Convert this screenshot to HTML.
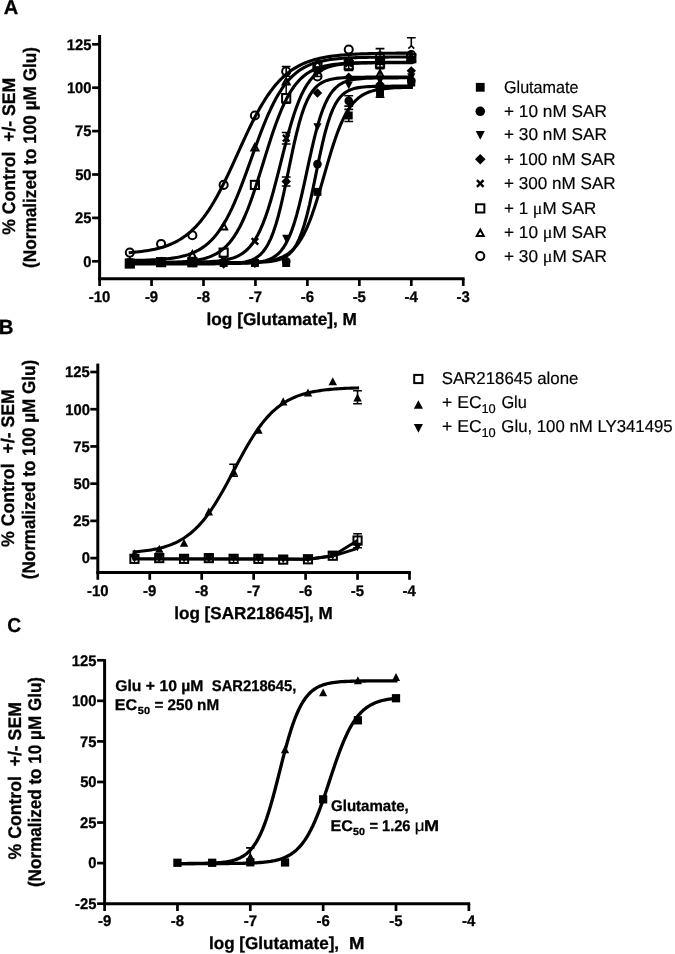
<!DOCTYPE html>
<html lang="en">
<head>
<meta charset="utf-8">
<title>Figure: SAR218645 concentration-response curves</title>
<style>
html,body{margin:0;padding:0;background:#fff;}
body{width:675px;height:954px;overflow:hidden;font-family:"Liberation Sans",sans-serif;}
svg{display:block;filter:grayscale(1) blur(0.3px);}
svg text{font-family:"Liberation Sans",sans-serif;fill:#000;text-rendering:geometricPrecision;stroke:#000;stroke-width:0.3px;stroke-linejoin:round;}
svg text[font-weight="normal"]{stroke-width:0.18px;}
</style>
</head>
<body>
<svg width="675" height="954" viewBox="0 0 675 954">
<rect x="0" y="0" width="675" height="954" fill="#fff"/>
<g id="panelA">
<text transform="translate(3.7 14.4) scale(1.0037 1)" font-size="20" font-weight="bold" font-family="Liberation Sans">A</text>
<text transform="translate(15.3 234.7) rotate(-90) scale(0.9676 1)" font-size="18.2" font-weight="bold">% Control  +/- SEM</text>
<text transform="translate(36.3 267.92) rotate(-90) scale(0.9452 1)" font-size="18.2" font-weight="bold">(Normalized to 100 µM Glu)</text>
<path d="M99.6 35 V280.25" stroke="#000" stroke-width="3.0" fill="none"/>
<path d="M98.1 278.75 H464.6" stroke="#000" stroke-width="3.0" fill="none"/>
<path d="M92.1 261.3 H99.6" stroke="#000" stroke-width="2.7"/>
<text transform="translate(83.35 266.6) scale(0.9600 1)" font-size="15.4" font-weight="bold" font-family="Liberation Sans">0</text>
<path d="M92.1 217.9 H99.6" stroke="#000" stroke-width="2.7"/>
<text transform="translate(74.96 223.2) scale(0.9600 1)" font-size="15.4" font-weight="bold" font-family="Liberation Sans">25</text>
<path d="M92.1 174.5 H99.6" stroke="#000" stroke-width="2.7"/>
<text transform="translate(75.14 179.8) scale(0.9600 1)" font-size="15.4" font-weight="bold" font-family="Liberation Sans">50</text>
<path d="M92.1 131.1 H99.6" stroke="#000" stroke-width="2.7"/>
<text transform="translate(74.96 136.4) scale(0.9600 1)" font-size="15.4" font-weight="bold" font-family="Liberation Sans">75</text>
<path d="M92.1 87.7 H99.6" stroke="#000" stroke-width="2.7"/>
<text transform="translate(66.9 93) scale(0.9600 1)" font-size="15.4" font-weight="bold" font-family="Liberation Sans">100</text>
<path d="M92.1 44.3 H99.6" stroke="#000" stroke-width="2.7"/>
<text transform="translate(66.72 49.6) scale(0.9600 1)" font-size="15.4" font-weight="bold" font-family="Liberation Sans">125</text>
<path d="M99.6 278.75 V286" stroke="#000" stroke-width="2.7"/>
<text transform="translate(88.81 301.6) scale(0.9700 1)" font-size="15.4" font-weight="bold" font-family="Liberation Sans">-10</text>
<path d="M151.55 278.75 V286" stroke="#000" stroke-width="2.7"/>
<text transform="translate(144.9 301.6) scale(0.9700 1)" font-size="15.4" font-weight="bold" font-family="Liberation Sans">-9</text>
<path d="M203.5 278.75 V286" stroke="#000" stroke-width="2.7"/>
<text transform="translate(196.8 301.6) scale(0.9700 1)" font-size="15.4" font-weight="bold" font-family="Liberation Sans">-8</text>
<path d="M255.45 278.75 V286" stroke="#000" stroke-width="2.7"/>
<text transform="translate(248.86 301.6) scale(0.9700 1)" font-size="15.4" font-weight="bold" font-family="Liberation Sans">-7</text>
<path d="M307.4 278.75 V286" stroke="#000" stroke-width="2.7"/>
<text transform="translate(300.73 301.6) scale(0.9700 1)" font-size="15.4" font-weight="bold" font-family="Liberation Sans">-6</text>
<path d="M359.35 278.75 V286" stroke="#000" stroke-width="2.7"/>
<text transform="translate(352.63 301.6) scale(0.9700 1)" font-size="15.4" font-weight="bold" font-family="Liberation Sans">-5</text>
<path d="M411.3 278.75 V286" stroke="#000" stroke-width="2.7"/>
<text transform="translate(404.41 301.6) scale(0.9700 1)" font-size="15.4" font-weight="bold" font-family="Liberation Sans">-4</text>
<path d="M463.25 278.75 V286" stroke="#000" stroke-width="2.7"/>
<text transform="translate(456.58 301.6) scale(0.9700 1)" font-size="15.4" font-weight="bold" font-family="Liberation Sans">-3</text>
<text transform="translate(206.53 324.7) scale(0.9979 1)" font-size="17.3" font-weight="bold" font-family="Liberation Sans">log [Glutamate], M</text>
<path d="M128.69 263.04 L131.28 263.04 L133.86 263.04 L136.44 263.04 L139.03 263.04 L141.61 263.04 L144.19 263.04 L146.78 263.04 L149.36 263.04 L151.94 263.04 L154.53 263.04 L157.11 263.04 L159.69 263.04 L162.28 263.04 L164.86 263.04 L167.44 263.04 L170.03 263.04 L172.61 263.04 L175.19 263.03 L177.78 263.03 L180.36 263.03 L182.94 263.03 L185.53 263.03 L188.11 263.03 L190.69 263.03 L193.28 263.03 L195.86 263.03 L198.44 263.03 L201.03 263.03 L203.61 263.02 L206.19 263.02 L208.78 263.02 L211.36 263.01 L213.94 263.01 L216.53 263 L219.11 263 L221.69 262.99 L224.28 262.98 L226.86 262.96 L229.44 262.94 L232.03 262.92 L234.61 262.9 L237.19 262.87 L239.78 262.83 L242.36 262.78 L244.94 262.72 L247.53 262.65 L250.11 262.56 L252.69 262.45 L255.28 262.32 L257.86 262.16 L260.44 261.96 L263.03 261.71 L265.61 261.41 L268.19 261.05 L270.78 260.6 L273.36 260.05 L275.94 259.38 L278.53 258.57 L281.11 257.57 L283.69 256.37 L286.28 254.92 L288.86 253.16 L291.44 251.06 L294.03 248.54 L296.61 245.55 L299.19 242.03 L301.78 237.91 L304.36 233.14 L306.94 227.67 L309.53 221.49 L312.11 214.6 L314.69 207.04 L317.28 198.9 L319.86 190.29 L322.44 181.38 L325.03 172.33 L327.61 163.33 L330.19 154.59 L332.78 146.25 L335.36 138.46 L337.94 131.3 L340.53 124.84 L343.11 119.1 L345.69 114.07 L348.28 109.7 L350.86 105.95 L353.44 102.77 L356.03 100.08 L358.61 97.82 L361.19 95.94 L363.78 94.37 L366.36 93.08 L368.94 92.01 L371.53 91.13 L374.11 90.41 L376.69 89.82 L379.28 89.33 L381.86 88.93 L384.44 88.61 L387.03 88.34 L389.61 88.13 L392.19 87.95 L394.78 87.81 L397.36 87.69 L399.94 87.6 L402.53 87.52 L405.11 87.46 L407.69 87.4 L410.28 87.36 L412.86 87.33" fill="none" stroke="#000" stroke-width="3.1" stroke-linecap="butt" stroke-linejoin="round"/>
<path d="M128.69 262.52 L131.28 262.52 L133.86 262.52 L136.44 262.52 L139.03 262.52 L141.61 262.52 L144.19 262.52 L146.78 262.52 L149.36 262.52 L151.94 262.52 L154.53 262.52 L157.11 262.52 L159.69 262.52 L162.28 262.52 L164.86 262.52 L167.44 262.52 L170.03 262.52 L172.61 262.52 L175.19 262.52 L177.78 262.52 L180.36 262.52 L182.94 262.52 L185.53 262.52 L188.11 262.52 L190.69 262.52 L193.28 262.52 L195.86 262.51 L198.44 262.51 L201.03 262.51 L203.61 262.51 L206.19 262.51 L208.78 262.51 L211.36 262.51 L213.94 262.51 L216.53 262.51 L219.11 262.51 L221.69 262.51 L224.28 262.51 L226.86 262.51 L229.44 262.5 L232.03 262.5 L234.61 262.5 L237.19 262.49 L239.78 262.48 L242.36 262.47 L244.94 262.45 L247.53 262.43 L250.11 262.4 L252.69 262.36 L255.28 262.31 L257.86 262.25 L260.44 262.16 L263.03 262.04 L265.61 261.88 L268.19 261.67 L270.78 261.38 L273.36 261.01 L275.94 260.51 L278.53 259.85 L281.11 258.98 L283.69 257.82 L286.28 256.31 L288.86 254.33 L291.44 251.76 L294.03 248.45 L296.61 244.23 L299.19 238.93 L301.78 232.39 L304.36 224.48 L306.94 215.18 L309.53 204.55 L312.11 192.82 L314.69 180.36 L317.28 167.66 L319.86 155.23 L322.44 143.55 L325.03 132.98 L327.61 123.75 L330.19 115.91 L332.78 109.43 L335.36 104.19 L337.94 100.02 L340.53 96.75 L343.11 94.21 L345.69 92.26 L348.28 90.77 L350.86 89.63 L353.44 88.77 L356.03 88.12 L358.61 87.62 L361.19 87.25 L363.78 86.98 L366.36 86.77 L368.94 86.61 L371.53 86.49 L374.11 86.4 L376.69 86.34 L379.28 86.29 L381.86 86.25 L384.44 86.22 L387.03 86.2 L389.61 86.18 L392.19 86.17 L394.78 86.16 L397.36 86.16 L399.94 86.15 L402.53 86.15 L405.11 86.15 L407.69 86.14 L410.28 86.14 L412.86 86.14" fill="none" stroke="#000" stroke-width="3.1" stroke-linecap="butt" stroke-linejoin="round"/>
<path d="M128.69 263.56 L131.28 263.56 L133.86 263.56 L136.44 263.56 L139.03 263.56 L141.61 263.56 L144.19 263.56 L146.78 263.56 L149.36 263.56 L151.94 263.56 L154.53 263.56 L157.11 263.56 L159.69 263.56 L162.28 263.56 L164.86 263.56 L167.44 263.56 L170.03 263.56 L172.61 263.56 L175.19 263.56 L177.78 263.56 L180.36 263.56 L182.94 263.56 L185.53 263.56 L188.11 263.56 L190.69 263.56 L193.28 263.55 L195.86 263.55 L198.44 263.55 L201.03 263.55 L203.61 263.55 L206.19 263.55 L208.78 263.55 L211.36 263.54 L213.94 263.54 L216.53 263.54 L219.11 263.53 L221.69 263.52 L224.28 263.51 L226.86 263.5 L229.44 263.48 L232.03 263.46 L234.61 263.43 L237.19 263.39 L239.78 263.34 L242.36 263.27 L244.94 263.19 L247.53 263.08 L250.11 262.94 L252.69 262.76 L255.28 262.52 L257.86 262.22 L260.44 261.83 L263.03 261.32 L265.61 260.67 L268.19 259.84 L270.78 258.77 L273.36 257.4 L275.94 255.66 L278.53 253.46 L281.11 250.68 L283.69 247.21 L286.28 242.92 L288.86 237.68 L291.44 231.36 L294.03 223.88 L296.61 215.21 L299.19 205.4 L301.78 194.6 L304.36 183.06 L306.94 171.12 L309.53 159.16 L312.11 147.58 L314.69 136.72 L317.28 126.83 L319.86 118.08 L322.44 110.51 L325.03 104.11 L327.61 98.79 L330.19 94.43 L332.78 90.91 L335.36 88.09 L337.94 85.84 L340.53 84.07 L343.11 82.68 L345.69 81.59 L348.28 80.74 L350.86 80.08 L353.44 79.57 L356.03 79.17 L358.61 78.86 L361.19 78.62 L363.78 78.43 L366.36 78.29 L368.94 78.18 L371.53 78.1 L374.11 78.03 L376.69 77.98 L379.28 77.94 L381.86 77.91 L384.44 77.88 L387.03 77.87 L389.61 77.85 L392.19 77.84 L394.78 77.83 L397.36 77.83 L399.94 77.82 L402.53 77.82 L405.11 77.81 L407.69 77.81 L410.28 77.81 L412.86 77.81" fill="none" stroke="#000" stroke-width="3.1" stroke-linecap="butt" stroke-linejoin="round"/>
<path d="M128.69 263.9 L131.28 263.9 L133.86 263.9 L136.44 263.9 L139.03 263.9 L141.61 263.9 L144.19 263.9 L146.78 263.9 L149.36 263.9 L151.94 263.9 L154.53 263.9 L157.11 263.9 L159.69 263.9 L162.28 263.9 L164.86 263.9 L167.44 263.9 L170.03 263.9 L172.61 263.9 L175.19 263.9 L177.78 263.9 L180.36 263.9 L182.94 263.9 L185.53 263.9 L188.11 263.9 L190.69 263.9 L193.28 263.9 L195.86 263.89 L198.44 263.89 L201.03 263.88 L203.61 263.88 L206.19 263.87 L208.78 263.86 L211.36 263.85 L213.94 263.83 L216.53 263.8 L219.11 263.77 L221.69 263.73 L224.28 263.68 L226.86 263.61 L229.44 263.52 L232.03 263.4 L234.61 263.24 L237.19 263.04 L239.78 262.77 L242.36 262.42 L244.94 261.96 L247.53 261.37 L250.11 260.59 L252.69 259.59 L255.28 258.29 L257.86 256.62 L260.44 254.47 L263.03 251.73 L265.61 248.27 L268.19 243.94 L270.78 238.59 L273.36 232.07 L275.94 224.29 L278.53 215.21 L281.11 204.87 L283.69 193.47 L286.28 181.28 L288.86 168.71 L291.44 156.2 L294.03 144.2 L296.61 133.07 L299.19 123.08 L301.78 114.37 L304.36 106.96 L306.94 100.78 L309.53 95.74 L312.11 91.67 L314.69 88.43 L317.28 85.88 L319.86 83.88 L322.44 82.32 L325.03 81.11 L327.61 80.18 L330.19 79.46 L332.78 78.91 L335.36 78.49 L337.94 78.16 L340.53 77.92 L343.11 77.73 L345.69 77.58 L348.28 77.47 L350.86 77.38 L353.44 77.32 L356.03 77.27 L358.61 77.23 L361.19 77.2 L363.78 77.18 L366.36 77.16 L368.94 77.15 L371.53 77.14 L374.11 77.13 L376.69 77.13 L379.28 77.12 L381.86 77.12 L384.44 77.12 L387.03 77.12 L389.61 77.12 L392.19 77.11 L394.78 77.11 L397.36 77.11 L399.94 77.11 L402.53 77.11 L405.11 77.11 L407.69 77.11 L410.28 77.11 L412.86 77.11" fill="none" stroke="#000" stroke-width="3.1" stroke-linecap="butt" stroke-linejoin="round"/>
<path d="M128.69 262.34 L131.28 262.34 L133.86 262.34 L136.44 262.34 L139.03 262.34 L141.61 262.34 L144.19 262.34 L146.78 262.34 L149.36 262.34 L151.94 262.33 L154.53 262.33 L157.11 262.33 L159.69 262.33 L162.28 262.33 L164.86 262.32 L167.44 262.32 L170.03 262.31 L172.61 262.31 L175.19 262.3 L177.78 262.29 L180.36 262.28 L182.94 262.26 L185.53 262.24 L188.11 262.22 L190.69 262.19 L193.28 262.16 L195.86 262.11 L198.44 262.06 L201.03 262 L203.61 261.92 L206.19 261.82 L208.78 261.71 L211.36 261.56 L213.94 261.38 L216.53 261.17 L219.11 260.9 L221.69 260.57 L224.28 260.17 L226.86 259.68 L229.44 259.08 L232.03 258.35 L234.61 257.46 L237.19 256.37 L239.78 255.05 L242.36 253.46 L244.94 251.54 L247.53 249.23 L250.11 246.46 L252.69 243.18 L255.28 239.3 L257.86 234.75 L260.44 229.48 L263.03 223.42 L265.61 216.56 L268.19 208.89 L270.78 200.44 L273.36 191.32 L275.94 181.63 L278.53 171.56 L281.11 161.3 L283.69 151.06 L286.28 141.07 L288.86 131.5 L291.44 122.53 L294.03 114.26 L296.61 106.78 L299.19 100.11 L301.78 94.24 L304.36 89.15 L306.94 84.76 L309.53 81.03 L312.11 77.88 L314.69 75.23 L317.28 73.02 L319.86 71.18 L322.44 69.65 L325.03 68.4 L327.61 67.36 L330.19 66.51 L332.78 65.81 L335.36 65.24 L337.94 64.77 L340.53 64.39 L343.11 64.08 L345.69 63.82 L348.28 63.61 L350.86 63.45 L353.44 63.31 L356.03 63.19 L358.61 63.1 L361.19 63.03 L363.78 62.97 L366.36 62.92 L368.94 62.88 L371.53 62.84 L374.11 62.82 L376.69 62.8 L379.28 62.78 L381.86 62.76 L384.44 62.75 L387.03 62.74 L389.61 62.74 L392.19 62.73 L394.78 62.72 L397.36 62.72 L399.94 62.72 L402.53 62.71 L405.11 62.71 L407.69 62.71 L410.28 62.71 L412.86 62.71" fill="none" stroke="#000" stroke-width="3.1" stroke-linecap="butt" stroke-linejoin="round"/>
<path d="M128.69 262.83 L131.28 262.82 L133.86 262.82 L136.44 262.81 L139.03 262.8 L141.61 262.79 L144.19 262.77 L146.78 262.76 L149.36 262.74 L151.94 262.71 L154.53 262.69 L157.11 262.65 L159.69 262.62 L162.28 262.57 L164.86 262.52 L167.44 262.46 L170.03 262.38 L172.61 262.3 L175.19 262.19 L177.78 262.07 L180.36 261.93 L182.94 261.76 L185.53 261.56 L188.11 261.33 L190.69 261.05 L193.28 260.73 L195.86 260.34 L198.44 259.89 L201.03 259.36 L203.61 258.73 L206.19 258 L208.78 257.14 L211.36 256.14 L213.94 254.96 L216.53 253.59 L219.11 251.99 L221.69 250.14 L224.28 248 L226.86 245.53 L229.44 242.69 L232.03 239.45 L234.61 235.77 L237.19 231.61 L239.78 226.94 L242.36 221.74 L244.94 216.01 L247.53 209.74 L250.11 202.96 L252.69 195.71 L255.28 188.05 L257.86 180.06 L260.44 171.84 L263.03 163.48 L265.61 155.12 L268.19 146.85 L270.78 138.81 L273.36 131.07 L275.94 123.73 L278.53 116.85 L281.11 110.47 L283.69 104.63 L286.28 99.32 L288.86 94.54 L291.44 90.28 L294.03 86.5 L296.61 83.16 L299.19 80.25 L301.78 77.7 L304.36 75.5 L306.94 73.59 L309.53 71.94 L312.11 70.52 L314.69 69.31 L317.28 68.27 L319.86 67.38 L322.44 66.63 L325.03 65.98 L327.61 65.43 L330.19 64.96 L332.78 64.57 L335.36 64.23 L337.94 63.94 L340.53 63.7 L343.11 63.49 L345.69 63.32 L348.28 63.17 L350.86 63.05 L353.44 62.94 L356.03 62.85 L358.61 62.77 L361.19 62.71 L363.78 62.65 L366.36 62.61 L368.94 62.57 L371.53 62.54 L374.11 62.51 L376.69 62.48 L379.28 62.46 L381.86 62.45 L384.44 62.43 L387.03 62.42 L389.61 62.41 L392.19 62.4 L394.78 62.39 L397.36 62.39 L399.94 62.38 L402.53 62.38 L405.11 62.38 L407.69 62.37 L410.28 62.37 L412.86 62.37" fill="none" stroke="#000" stroke-width="3.1" stroke-linecap="butt" stroke-linejoin="round"/>
<path d="M128.69 260.54 L131.28 260.5 L133.86 260.46 L136.44 260.41 L139.03 260.35 L141.61 260.29 L144.19 260.21 L146.78 260.13 L149.36 260.03 L151.94 259.91 L154.53 259.78 L157.11 259.63 L159.69 259.45 L162.28 259.25 L164.86 259.02 L167.44 258.76 L170.03 258.45 L172.61 258.1 L175.19 257.7 L177.78 257.24 L180.36 256.71 L182.94 256.1 L185.53 255.41 L188.11 254.61 L190.69 253.7 L193.28 252.67 L195.86 251.48 L198.44 250.14 L201.03 248.61 L203.61 246.89 L206.19 244.93 L208.78 242.73 L211.36 240.25 L213.94 237.48 L216.53 234.38 L219.11 230.94 L221.69 227.14 L224.28 222.96 L226.86 218.4 L229.44 213.43 L232.03 208.08 L234.61 202.34 L237.19 196.25 L239.78 189.83 L242.36 183.13 L244.94 176.2 L247.53 169.1 L250.11 161.9 L252.69 154.67 L255.28 147.48 L257.86 140.41 L260.44 133.51 L263.03 126.85 L265.61 120.49 L268.19 114.45 L270.78 108.78 L273.36 103.49 L275.94 98.59 L278.53 94.08 L281.11 89.96 L283.69 86.22 L286.28 82.84 L288.86 79.8 L291.44 77.08 L294.03 74.65 L296.61 72.49 L299.19 70.57 L301.78 68.88 L304.36 67.38 L306.94 66.06 L309.53 64.91 L312.11 63.89 L314.69 63 L317.28 62.23 L319.86 61.55 L322.44 60.95 L325.03 60.44 L327.61 59.98 L330.19 59.59 L332.78 59.25 L335.36 58.95 L337.94 58.69 L340.53 58.46 L343.11 58.27 L345.69 58.1 L348.28 57.95 L350.86 57.82 L353.44 57.71 L356.03 57.61 L358.61 57.53 L361.19 57.45 L363.78 57.39 L366.36 57.34 L368.94 57.29 L371.53 57.25 L374.11 57.21 L376.69 57.18 L379.28 57.15 L381.86 57.13 L384.44 57.11 L387.03 57.09 L389.61 57.07 L392.19 57.06 L394.78 57.05 L397.36 57.04 L399.94 57.03 L402.53 57.02 L405.11 57.02 L407.69 57.01 L410.28 57.01 L412.86 57" fill="none" stroke="#000" stroke-width="3.1" stroke-linecap="butt" stroke-linejoin="round"/>
<path d="M128.69 252.68 L131.28 252.48 L133.86 252.26 L136.44 252.01 L139.03 251.73 L141.61 251.42 L144.19 251.07 L146.78 250.69 L149.36 250.26 L151.94 249.77 L154.53 249.24 L157.11 248.64 L159.69 247.98 L162.28 247.24 L164.86 246.42 L167.44 245.51 L170.03 244.5 L172.61 243.38 L175.19 242.14 L177.78 240.77 L180.36 239.26 L182.94 237.6 L185.53 235.78 L188.11 233.78 L190.69 231.58 L193.28 229.19 L195.86 226.59 L198.44 223.76 L201.03 220.7 L203.61 217.41 L206.19 213.86 L208.78 210.07 L211.36 206.03 L213.94 201.75 L216.53 197.22 L219.11 192.47 L221.69 187.51 L224.28 182.36 L226.86 177.03 L229.44 171.57 L232.03 165.99 L234.61 160.34 L237.19 154.64 L239.78 148.93 L242.36 143.26 L244.94 137.65 L247.53 132.15 L250.11 126.77 L252.69 121.56 L255.28 116.53 L257.86 111.7 L260.44 107.1 L263.03 102.73 L265.61 98.61 L268.19 94.73 L270.78 91.11 L273.36 87.73 L275.94 84.59 L278.53 81.68 L281.11 79 L283.69 76.54 L286.28 74.28 L288.86 72.22 L291.44 70.33 L294.03 68.62 L296.61 67.06 L299.19 65.65 L301.78 64.37 L304.36 63.21 L306.94 62.16 L309.53 61.22 L312.11 60.37 L314.69 59.6 L317.28 58.91 L319.86 58.29 L322.44 57.74 L325.03 57.24 L327.61 56.79 L330.19 56.39 L332.78 56.03 L335.36 55.71 L337.94 55.42 L340.53 55.16 L343.11 54.93 L345.69 54.72 L348.28 54.54 L350.86 54.37 L353.44 54.22 L356.03 54.09 L358.61 53.97 L361.19 53.87 L363.78 53.77 L366.36 53.69 L368.94 53.61 L371.53 53.54 L374.11 53.48 L376.69 53.43 L379.28 53.38 L381.86 53.34 L384.44 53.3 L387.03 53.27 L389.61 53.24 L392.19 53.21 L394.78 53.18 L397.36 53.16 L399.94 53.14 L402.53 53.12 L405.11 53.11 L407.69 53.1 L410.28 53.08 L412.86 53.07" fill="none" stroke="#000" stroke-width="3.1" stroke-linecap="butt" stroke-linejoin="round"/>
<rect x="125.85" y="259.08" width="7.92" height="7.92" fill="#000"/>
<rect x="157.12" y="258.03" width="7.92" height="7.92" fill="#000"/>
<rect x="188.4" y="259.25" width="7.92" height="7.92" fill="#000"/>
<rect x="219.68" y="259.08" width="7.92" height="7.92" fill="#000"/>
<rect x="250.95" y="259.08" width="7.92" height="7.92" fill="#000"/>
<rect x="282.23" y="259.08" width="7.92" height="7.92" fill="#000"/>
<rect x="313.51" y="187.9" width="7.92" height="7.92" fill="#000"/>
<path d="M348.75 109.4 V121.55 M344.35 109.4 H353.15 M344.35 121.55 H353.15" stroke="#000" stroke-width="1.6" fill="none"/>
<rect x="344.79" y="111.52" width="7.92" height="7.92" fill="#000"/>
<path d="M380.02 88.57 V97.25 M375.62 88.57 H384.42 M375.62 97.25 H384.42" stroke="#000" stroke-width="1.6" fill="none"/>
<rect x="376.06" y="88.95" width="7.92" height="7.92" fill="#000"/>
<rect x="407.34" y="78.53" width="7.92" height="7.92" fill="#000"/>
<circle cx="129.81" cy="262.69" r="4.32" fill="#000"/>
<circle cx="161.08" cy="262.34" r="4.32" fill="#000"/>
<circle cx="192.36" cy="262.69" r="4.32" fill="#000"/>
<circle cx="223.64" cy="262.69" r="4.32" fill="#000"/>
<circle cx="254.91" cy="262.69" r="4.32" fill="#000"/>
<circle cx="286.19" cy="261.3" r="4.32" fill="#000"/>
<circle cx="317.47" cy="164.08" r="4.32" fill="#000"/>
<path d="M348.75 95.69 V106.1 M344.35 95.69 H353.15 M344.35 106.1 H353.15" stroke="#000" stroke-width="1.6" fill="none"/>
<circle cx="348.75" cy="100.89" r="4.32" fill="#000"/>
<circle cx="380.02" cy="87.7" r="4.32" fill="#000"/>
<circle cx="411.3" cy="80.76" r="4.32" fill="#000"/>
<path d="M125.71 259.47 L133.9 259.47 L129.81 267.3Z" fill="#000"/>
<path d="M156.99 259.12 L165.18 259.12 L161.08 266.95Z" fill="#000"/>
<path d="M188.27 259.47 L196.46 259.47 L192.36 267.3Z" fill="#000"/>
<path d="M219.54 260.51 L227.73 260.51 L223.64 268.34Z" fill="#000"/>
<path d="M250.82 259.12 L259.01 259.12 L254.91 266.95Z" fill="#000"/>
<path d="M282.1 234.82 L290.29 234.82 L286.19 242.65Z" fill="#000"/>
<path d="M313.37 123.19 L321.56 123.19 L317.47 131.02Z" fill="#000"/>
<path d="M344.65 81.53 L352.84 81.53 L348.75 89.36Z" fill="#000"/>
<path d="M375.93 76.84 L384.12 76.84 L380.02 84.67Z" fill="#000"/>
<path d="M407.21 73.37 L415.4 73.37 L411.3 81.2Z" fill="#000"/>
<path d="M125.08 261.82 L129.81 257.1 L134.53 261.82 L129.81 266.55Z" fill="#000"/>
<path d="M156.36 261.65 L161.08 256.92 L165.81 261.65 L161.08 266.37Z" fill="#000"/>
<path d="M187.64 262.17 L192.36 257.44 L197.09 262.17 L192.36 266.89Z" fill="#000"/>
<path d="M218.91 263.9 L223.64 259.18 L228.36 263.9 L223.64 268.63Z" fill="#000"/>
<path d="M250.19 263.38 L254.91 258.66 L259.64 263.38 L254.91 268.11Z" fill="#000"/>
<path d="M286.19 176.93 V185.96 M281.79 176.93 H290.59 M281.79 185.96 H290.59" stroke="#000" stroke-width="1.6" fill="none"/>
<path d="M281.47 181.44 L286.19 176.72 L290.92 181.44 L286.19 186.17Z" fill="#000"/>
<path d="M312.74 92.91 L317.47 88.18 L322.19 92.91 L317.47 97.63Z" fill="#000"/>
<path d="M344.02 77.28 L348.75 72.56 L353.47 77.28 L348.75 82.01Z" fill="#000"/>
<path d="M375.3 84.23 L380.02 79.5 L384.75 84.23 L380.02 88.95Z" fill="#000"/>
<path d="M406.58 70.86 L411.3 66.14 L416.03 70.86 L411.3 75.59Z" fill="#000"/>
<path d="M126.51 258.87 L133.11 265.47 M126.51 265.47 L133.11 258.87" stroke="#000" stroke-width="2.4" fill="none"/>
<path d="M157.78 258.87 L164.38 265.47 M157.78 265.47 L164.38 258.87" stroke="#000" stroke-width="2.4" fill="none"/>
<path d="M189.06 258.87 L195.66 265.47 M189.06 265.47 L195.66 258.87" stroke="#000" stroke-width="2.4" fill="none"/>
<path d="M220.34 256.26 L226.94 262.86 M220.34 262.86 L226.94 256.26" stroke="#000" stroke-width="2.4" fill="none"/>
<path d="M251.61 238.04 L258.21 244.64 M251.61 244.64 L258.21 238.04" stroke="#000" stroke-width="2.4" fill="none"/>
<path d="M286.19 132.49 V143.95 M281.79 132.49 H290.59 M281.79 143.95 H290.59" stroke="#000" stroke-width="1.6" fill="none"/>
<path d="M282.89 134.92 L289.49 141.52 M282.89 141.52 L289.49 134.92" stroke="#000" stroke-width="2.4" fill="none"/>
<path d="M314.17 67.04 L320.77 73.64 M314.17 73.64 L320.77 67.04" stroke="#000" stroke-width="2.4" fill="none"/>
<path d="M345.45 60.1 L352.05 66.7 M345.45 66.7 L352.05 60.1" stroke="#000" stroke-width="2.4" fill="none"/>
<path d="M376.72 58.36 L383.32 64.96 M376.72 64.96 L383.32 58.36" stroke="#000" stroke-width="2.4" fill="none"/>
<path d="M408 56.62 L414.6 63.22 M408 63.22 L414.6 56.62" stroke="#000" stroke-width="2.4" fill="none"/>
<rect x="125.71" y="259.46" width="8.2" height="8.2" fill="none" stroke="#000" stroke-width="2"/>
<rect x="156.98" y="258.07" width="8.2" height="8.2" fill="none" stroke="#000" stroke-width="2"/>
<rect x="188.26" y="258.07" width="8.2" height="8.2" fill="none" stroke="#000" stroke-width="2"/>
<rect x="219.54" y="248.52" width="8.2" height="8.2" fill="none" stroke="#000" stroke-width="2"/>
<rect x="250.81" y="180.82" width="8.2" height="8.2" fill="none" stroke="#000" stroke-width="2"/>
<rect x="282.09" y="94.02" width="8.2" height="8.2" fill="none" stroke="#000" stroke-width="2"/>
<rect x="313.37" y="62.77" width="8.2" height="8.2" fill="none" stroke="#000" stroke-width="2"/>
<path d="M348.75 59.92 V70.34 M344.35 59.92 H353.15 M344.35 70.34 H353.15" stroke="#000" stroke-width="1.6" fill="none"/>
<rect x="344.65" y="61.03" width="8.2" height="8.2" fill="none" stroke="#000" stroke-width="2"/>
<path d="M380.02 58.19 V68.6 M375.62 58.19 H384.42 M375.62 68.6 H384.42" stroke="#000" stroke-width="1.6" fill="none"/>
<rect x="375.92" y="59.3" width="8.2" height="8.2" fill="none" stroke="#000" stroke-width="2"/>
<rect x="407.2" y="54.09" width="8.2" height="8.2" fill="none" stroke="#000" stroke-width="2"/>
<path fill-rule="evenodd" d="M124.61 266.15 L135.01 266.15 L129.81 256.45Z M127.95 264.15 L131.67 264.15 L129.81 260.68Z" fill="#000"/>
<path fill-rule="evenodd" d="M155.88 266.15 L166.28 266.15 L161.08 256.45Z M159.23 264.15 L162.94 264.15 L161.08 260.68Z" fill="#000"/>
<path fill-rule="evenodd" d="M187.16 258.69 L197.56 258.69 L192.36 248.99Z M190.5 256.69 L194.22 256.69 L192.36 253.22Z" fill="#000"/>
<path fill-rule="evenodd" d="M218.44 230.56 L228.84 230.56 L223.64 220.86Z M221.78 228.56 L225.5 228.56 L223.64 225.1Z" fill="#000"/>
<path fill-rule="evenodd" d="M249.71 151.57 L260.11 151.57 L254.91 141.87Z M253.06 149.57 L256.77 149.57 L254.91 146.11Z" fill="#000"/>
<path fill-rule="evenodd" d="M280.99 85.61 L291.39 85.61 L286.19 75.91Z M284.33 83.61 L288.05 83.61 L286.19 80.14Z" fill="#000"/>
<path fill-rule="evenodd" d="M312.27 68.25 L322.67 68.25 L317.47 58.55Z M315.61 66.25 L319.33 66.25 L317.47 62.78Z" fill="#000"/>
<path fill-rule="evenodd" d="M343.55 64.77 L353.95 64.77 L348.75 55.07Z M346.89 62.77 L350.6 62.77 L348.75 59.31Z" fill="#000"/>
<path d="M380.02 67.74 V78.15 M375.62 67.74 H384.42 M375.62 78.15 H384.42" stroke="#000" stroke-width="1.6" fill="none"/>
<path fill-rule="evenodd" d="M374.82 77.79 L385.22 77.79 L380.02 68.09Z M378.16 75.79 L381.88 75.79 L380.02 72.33Z" fill="#000"/>
<path fill-rule="evenodd" d="M406.1 61.3 L416.5 61.3 L411.3 51.6Z M409.44 59.3 L413.16 59.3 L411.3 55.84Z" fill="#000"/>
<circle cx="129.81" cy="252.62" r="4.05" fill="none" stroke="#000" stroke-width="2"/>
<circle cx="161.08" cy="243.94" r="4.05" fill="none" stroke="#000" stroke-width="2"/>
<circle cx="192.36" cy="235.26" r="4.05" fill="none" stroke="#000" stroke-width="2"/>
<circle cx="223.64" cy="184.92" r="4.05" fill="none" stroke="#000" stroke-width="2"/>
<circle cx="254.91" cy="115.48" r="4.05" fill="none" stroke="#000" stroke-width="2"/>
<path d="M286.19 66.52 V76.24 M281.79 66.52 H290.59 M281.79 76.24 H290.59" stroke="#000" stroke-width="1.6" fill="none"/>
<circle cx="286.19" cy="71.38" r="4.05" fill="none" stroke="#000" stroke-width="2"/>
<circle cx="317.47" cy="76.42" r="4.05" fill="none" stroke="#000" stroke-width="2"/>
<circle cx="348.75" cy="49.51" r="4.05" fill="none" stroke="#000" stroke-width="2"/>
<path d="M380.02 48.64 V64.26 M375.62 48.64 H384.42 M375.62 64.26 H384.42" stroke="#000" stroke-width="1.6" fill="none"/>
<circle cx="380.02" cy="56.45" r="4.05" fill="none" stroke="#000" stroke-width="2"/>
<circle cx="411.3" cy="55.06" r="4.05" fill="none" stroke="#000" stroke-width="2"/>
<path d="M317.47 68.62 V76.42 M313.07 68.62 H321.87 M313.47 76.42 H321.47" stroke="#000" stroke-width="1.5" fill="none"/>
<path d="M286.19 94.62 V83.26 M281.79 103.32 H290.59" stroke="#000" stroke-width="1.5" fill="none"/>
<path d="M406.9 37.8 H415.7 M411.3 37.8 V46.2 M408.4 48.6 L411.3 45.6 L414.2 48.6" stroke="#000" stroke-width="1.6" fill="none"/>
<rect x="475.85" y="82.9" width="8.8" height="8.8" fill="#000"/>
<text transform="translate(503.99 92.9) scale(0.9390 1)" font-size="17.2" font-weight="normal" font-family="Liberation Sans">Glutamate</text>
<circle cx="480.25" cy="111.3" r="4.8" fill="#000"/>
<text transform="translate(503.98 116.5) scale(1.0032 1)" font-size="17.2" font-weight="normal" font-family="Liberation Sans">+ 10 nM SAR</text>
<path d="M475.7 131 L484.8 131 L480.25 139.7Z" fill="#000"/>
<text transform="translate(503.98 140.4) scale(1.0032 1)" font-size="17.2" font-weight="normal" font-family="Liberation Sans">+ 30 nM SAR</text>
<path d="M475 159.2 L480.25 153.95 L485.5 159.2 L480.25 164.45Z" fill="#000"/>
<text transform="translate(503.99 165) scale(0.9949 1)" font-size="17.2" font-weight="normal" font-family="Liberation Sans">+ 100 nM SAR</text>
<path d="M476.95 180.2 L483.55 186.8 M476.95 186.8 L483.55 180.2" stroke="#000" stroke-width="2.4" fill="none"/>
<text transform="translate(503.99 189.4) scale(0.9949 1)" font-size="17.2" font-weight="normal" font-family="Liberation Sans">+ 300 nM SAR</text>
<rect x="476.15" y="204.3" width="8.2" height="8.2" fill="none" stroke="#000" stroke-width="2"/>
<text transform="translate(503.99 214.2) scale(0.9897 1)" font-size="17.2" font-weight="normal">+ 1 <tspan font-family="Liberation Serif" font-size="18.06">μ</tspan>M SAR</text>
<path fill-rule="evenodd" d="M475.05 237.1 L485.45 237.1 L480.25 227.4Z M478.39 235.1 L482.11 235.1 L480.25 231.63Z" fill="#000"/>
<text transform="translate(503.98 238) scale(1.0019 1)" font-size="17.2" font-weight="normal">+ 10 <tspan font-family="Liberation Serif" font-size="18.06">μ</tspan>M SAR</text>
<circle cx="480.25" cy="256.1" r="4.05" fill="none" stroke="#000" stroke-width="2"/>
<text transform="translate(503.98 262.05) scale(1.0019 1)" font-size="17.2" font-weight="normal">+ 30 <tspan font-family="Liberation Serif" font-size="18.06">μ</tspan>M SAR</text>
</g>
<g id="panelB">
<text transform="translate(-1.13 333.7) scale(0.9907 1)" font-size="20.6" font-weight="bold" font-family="Liberation Sans">B</text>
<text transform="translate(13.7 546.9) rotate(-90) scale(0.9720 1)" font-size="18.2" font-weight="bold">% Control  +/- SEM</text>
<text transform="translate(34.5 579.21) rotate(-90) scale(0.9383 1)" font-size="18.2" font-weight="bold">(Normalized to 100 µM Glu)</text>
<path d="M97.8 363.6 V573.9" stroke="#000" stroke-width="3.0" fill="none"/>
<path d="M96.3 572.4 H410.85" stroke="#000" stroke-width="3.0" fill="none"/>
<path d="M90.3 558.1 H97.8" stroke="#000" stroke-width="2.7"/>
<text transform="translate(81.65 563.4) scale(0.9600 1)" font-size="15.4" font-weight="bold" font-family="Liberation Sans">0</text>
<path d="M90.3 520.88 H97.8" stroke="#000" stroke-width="2.7"/>
<text transform="translate(73.26 526.18) scale(0.9600 1)" font-size="15.4" font-weight="bold" font-family="Liberation Sans">25</text>
<path d="M90.3 483.66 H97.8" stroke="#000" stroke-width="2.7"/>
<text transform="translate(73.44 488.96) scale(0.9600 1)" font-size="15.4" font-weight="bold" font-family="Liberation Sans">50</text>
<path d="M90.3 446.44 H97.8" stroke="#000" stroke-width="2.7"/>
<text transform="translate(73.26 451.74) scale(0.9600 1)" font-size="15.4" font-weight="bold" font-family="Liberation Sans">75</text>
<path d="M90.3 409.22 H97.8" stroke="#000" stroke-width="2.7"/>
<text transform="translate(65.2 414.52) scale(0.9600 1)" font-size="15.4" font-weight="bold" font-family="Liberation Sans">100</text>
<path d="M90.3 372 H97.8" stroke="#000" stroke-width="2.7"/>
<text transform="translate(65.02 377.3) scale(0.9600 1)" font-size="15.4" font-weight="bold" font-family="Liberation Sans">125</text>
<path d="M97.8 572.4 V579.8" stroke="#000" stroke-width="2.7"/>
<text transform="translate(87.01 595.5) scale(0.9700 1)" font-size="15.4" font-weight="bold" font-family="Liberation Sans">-10</text>
<path d="M149.75 572.4 V579.8" stroke="#000" stroke-width="2.7"/>
<text transform="translate(143.1 595.5) scale(0.9700 1)" font-size="15.4" font-weight="bold" font-family="Liberation Sans">-9</text>
<path d="M201.7 572.4 V579.8" stroke="#000" stroke-width="2.7"/>
<text transform="translate(195 595.5) scale(0.9700 1)" font-size="15.4" font-weight="bold" font-family="Liberation Sans">-8</text>
<path d="M253.65 572.4 V579.8" stroke="#000" stroke-width="2.7"/>
<text transform="translate(247.06 595.5) scale(0.9700 1)" font-size="15.4" font-weight="bold" font-family="Liberation Sans">-7</text>
<path d="M305.6 572.4 V579.8" stroke="#000" stroke-width="2.7"/>
<text transform="translate(298.93 595.5) scale(0.9700 1)" font-size="15.4" font-weight="bold" font-family="Liberation Sans">-6</text>
<path d="M357.55 572.4 V579.8" stroke="#000" stroke-width="2.7"/>
<text transform="translate(350.83 595.5) scale(0.9700 1)" font-size="15.4" font-weight="bold" font-family="Liberation Sans">-5</text>
<path d="M409.5 572.4 V579.8" stroke="#000" stroke-width="2.7"/>
<text transform="translate(402.61 595.5) scale(0.9700 1)" font-size="15.4" font-weight="bold" font-family="Liberation Sans">-4</text>
<text transform="translate(174.25 618.7) scale(0.9889 1)" font-size="17.3" font-weight="bold" font-family="Liberation Sans">log [SAR218645], M</text>
<path d="M132.61 552.06 L134.67 551.89 L136.72 551.72 L138.78 551.52 L140.84 551.31 L142.9 551.08 L144.96 550.82 L147.02 550.55 L149.08 550.24 L151.14 549.91 L153.2 549.54 L155.26 549.14 L157.32 548.71 L159.37 548.23 L161.43 547.72 L163.49 547.15 L165.55 546.54 L167.61 545.86 L169.67 545.13 L171.73 544.34 L173.79 543.48 L175.85 542.54 L177.91 541.53 L179.97 540.43 L182.03 539.24 L184.08 537.95 L186.14 536.57 L188.2 535.08 L190.26 533.47 L192.32 531.75 L194.38 529.9 L196.44 527.93 L198.5 525.83 L200.56 523.59 L202.62 521.22 L204.68 518.7 L206.73 516.05 L208.79 513.26 L210.85 510.33 L212.91 507.26 L214.97 504.07 L217.03 500.75 L219.09 497.32 L221.15 493.79 L223.21 490.16 L225.27 486.45 L227.33 482.67 L229.38 478.85 L231.44 474.98 L233.5 471.1 L235.56 467.21 L237.62 463.34 L239.68 459.5 L241.74 455.71 L243.8 451.98 L245.86 448.33 L247.92 444.76 L249.98 441.3 L252.03 437.95 L254.09 434.72 L256.15 431.62 L258.21 428.65 L260.27 425.81 L262.33 423.12 L264.39 420.56 L266.45 418.15 L268.51 415.87 L270.57 413.73 L272.63 411.72 L274.69 409.84 L276.74 408.08 L278.8 406.44 L280.86 404.92 L282.92 403.5 L284.98 402.19 L287.04 400.97 L289.1 399.84 L291.16 398.81 L293.22 397.85 L295.28 396.96 L297.34 396.15 L299.39 395.4 L301.45 394.71 L303.51 394.08 L305.57 393.5 L307.63 392.97 L309.69 392.48 L311.75 392.04 L313.81 391.63 L315.87 391.25 L317.93 390.91 L319.99 390.6 L322.04 390.31 L324.1 390.05 L326.16 389.81 L328.22 389.59 L330.28 389.4 L332.34 389.21 L334.4 389.05 L336.46 388.9 L338.52 388.76 L340.58 388.63 L342.64 388.52 L344.69 388.41 L346.75 388.32 L348.81 388.23 L350.87 388.15 L352.93 388.08 L354.99 388.01 L357.05 387.95 L359.11 387.9" fill="none" stroke="#000" stroke-width="3.1" stroke-linecap="butt" stroke-linejoin="round"/>
<path d="M132.61 558.84 L274.43 558.99 L307.99 559.29 L332.77 555.72 L357.55 540.53" fill="none" stroke="#000" stroke-width="2.9" stroke-linejoin="round"/>
<path d="M132.61 558.84 L274.43 558.99 L307.99 559.29 L332.77 556.02 L357.55 548.27" fill="none" stroke="#000" stroke-width="2.9" stroke-linejoin="round"/>
<path d="M233.62 464.31 V476.22 M229.22 464.31 H238.02 M229.22 476.22 H238.02" stroke="#000" stroke-width="1.6" fill="none"/>
<path d="M357.55 390.76 V403.71 M353.15 390.76 H361.95 M353.15 403.71 H361.95" stroke="#000" stroke-width="1.6" fill="none"/>
<path d="M357.55 533.68 V547.68 M353.15 533.68 H361.95 M353.15 547.68 H361.95" stroke="#000" stroke-width="1.6" fill="none"/>
<path d="M130.06 554.22 L138.89 554.22 L134.47 562.66Z" fill="#000"/>
<path d="M154.85 554.22 L163.67 554.22 L159.26 562.66Z" fill="#000"/>
<path d="M179.63 554.22 L188.46 554.22 L184.05 562.66Z" fill="#000"/>
<path d="M204.42 554.22 L213.25 554.22 L208.83 562.66Z" fill="#000"/>
<path d="M229.2 554.22 L238.03 554.22 L233.62 562.66Z" fill="#000"/>
<path d="M253.99 554.22 L262.82 554.22 L258.4 562.66Z" fill="#000"/>
<path d="M278.78 554.97 L287.6 554.97 L283.19 563.41Z" fill="#000"/>
<path d="M303.56 554.67 L312.39 554.67 L307.98 563.11Z" fill="#000"/>
<path d="M328.35 551.4 L337.18 551.4 L332.76 559.84Z" fill="#000"/>
<path d="M353.14 542.76 L361.96 542.76 L357.55 551.2Z" fill="#000"/>
<rect x="130.37" y="554.74" width="8.2" height="8.2" fill="none" stroke="#000" stroke-width="2"/>
<rect x="155.16" y="554" width="8.2" height="8.2" fill="none" stroke="#000" stroke-width="2"/>
<rect x="179.95" y="554.74" width="8.2" height="8.2" fill="none" stroke="#000" stroke-width="2"/>
<rect x="204.73" y="554" width="8.2" height="8.2" fill="none" stroke="#000" stroke-width="2"/>
<rect x="229.52" y="554.74" width="8.2" height="8.2" fill="none" stroke="#000" stroke-width="2"/>
<rect x="254.3" y="554.74" width="8.2" height="8.2" fill="none" stroke="#000" stroke-width="2"/>
<rect x="279.09" y="555.49" width="8.2" height="8.2" fill="none" stroke="#000" stroke-width="2"/>
<rect x="303.88" y="555.19" width="8.2" height="8.2" fill="none" stroke="#000" stroke-width="2"/>
<rect x="328.66" y="551.62" width="8.2" height="8.2" fill="none" stroke="#000" stroke-width="2"/>
<rect x="353.45" y="536.43" width="8.2" height="8.2" fill="none" stroke="#000" stroke-width="2"/>
<path d="M130.24 557.28 L138.7 557.28 L134.47 549.19Z" fill="#000"/>
<path d="M155.03 552.81 L163.49 552.81 L159.26 544.72Z" fill="#000"/>
<path d="M179.81 546.86 L188.28 546.86 L184.05 538.77Z" fill="#000"/>
<path d="M204.6 515.59 L213.06 515.59 L208.83 507.5Z" fill="#000"/>
<path d="M229.39 475.4 L237.85 475.4 L233.62 467.3Z" fill="#000"/>
<path d="M254.17 433.71 L262.64 433.71 L258.4 425.62Z" fill="#000"/>
<path d="M278.96 405.42 L287.42 405.42 L283.19 397.33Z" fill="#000"/>
<path d="M303.75 396.49 L312.21 396.49 L307.98 388.4Z" fill="#000"/>
<path d="M328.53 385.32 L337 385.32 L332.76 377.23Z" fill="#000"/>
<path d="M353.32 401.55 L361.78 401.55 L357.55 393.46Z" fill="#000"/>
<rect x="414.2" y="374.9" width="8.2" height="8.2" fill="none" stroke="#000" stroke-width="2"/>
<text transform="translate(441.64 384.4) scale(0.9803 1)" font-size="17.2" font-weight="normal" font-family="Liberation Sans">SAR218645 alone</text>
<path d="M413.85 408.85 L422.95 408.85 L418.4 400.15Z" fill="#000"/>
<text transform="translate(442.07 408.1) scale(1.0220 1)" font-size="17.2" font-weight="normal" font-family="Liberation Sans">+ EC</text>
<text transform="translate(481.44 413) scale(1.0184 1)" font-size="12.6" font-weight="normal" font-family="Liberation Sans">10</text>
<path d="M413.85 424.05 L422.95 424.05 L418.4 432.75Z" fill="#000"/>
<text transform="translate(442.07 431.8) scale(1.0220 1)" font-size="17.2" font-weight="normal" font-family="Liberation Sans">+ EC</text>
<text transform="translate(481.44 436.7) scale(1.0184 1)" font-size="12.6" font-weight="normal" font-family="Liberation Sans">10</text>
<text transform="translate(501.38 408.1) scale(0.9528 1)" font-size="17.2" font-weight="normal" font-family="Liberation Sans">Glu</text>
<text transform="translate(501.36 431.8) scale(0.9761 1)" font-size="17.2" font-weight="normal" font-family="Liberation Sans">Glu, 100 nM LY341495</text>
</g>
<g id="panelC">
<text transform="translate(7.23 631.5) scale(0.9523 1)" font-size="20.2" font-weight="bold" font-family="Liberation Sans">C</text>
<text transform="translate(20.5 859.4) rotate(-90) scale(0.9695 1)" font-size="18.2" font-weight="bold">% Control  +/- SEM</text>
<text transform="translate(41.4 887.11) rotate(-90) scale(0.9395 1)" font-size="18.2" font-weight="bold">(Normalized to 10 µM Glu)</text>
<path d="M104.6 659.2 V905.2" stroke="#000" stroke-width="3.0" fill="none"/>
<path d="M103.1 903.7 H470.2" stroke="#000" stroke-width="3.0" fill="none"/>
<path d="M97.1 903.67 H104.6" stroke="#000" stroke-width="2.7"/>
<text transform="translate(75.01 908.97) scale(0.9600 1)" font-size="15.4" font-weight="bold" font-family="Liberation Sans">-25</text>
<path d="M97.1 863.1 H104.6" stroke="#000" stroke-width="2.7"/>
<text transform="translate(88.35 868.4) scale(0.9600 1)" font-size="15.4" font-weight="bold" font-family="Liberation Sans">0</text>
<path d="M97.1 822.53 H104.6" stroke="#000" stroke-width="2.7"/>
<text transform="translate(79.96 827.83) scale(0.9600 1)" font-size="15.4" font-weight="bold" font-family="Liberation Sans">25</text>
<path d="M97.1 781.97 H104.6" stroke="#000" stroke-width="2.7"/>
<text transform="translate(80.14 787.27) scale(0.9600 1)" font-size="15.4" font-weight="bold" font-family="Liberation Sans">50</text>
<path d="M97.1 741.4 H104.6" stroke="#000" stroke-width="2.7"/>
<text transform="translate(79.96 746.7) scale(0.9600 1)" font-size="15.4" font-weight="bold" font-family="Liberation Sans">75</text>
<path d="M97.1 700.83 H104.6" stroke="#000" stroke-width="2.7"/>
<text transform="translate(71.9 706.13) scale(0.9600 1)" font-size="15.4" font-weight="bold" font-family="Liberation Sans">100</text>
<path d="M97.1 660.27 H104.6" stroke="#000" stroke-width="2.7"/>
<text transform="translate(71.72 665.57) scale(0.9600 1)" font-size="15.4" font-weight="bold" font-family="Liberation Sans">125</text>
<path d="M104.6 903.7 V911" stroke="#000" stroke-width="2.7"/>
<text transform="translate(97.95 926.3) scale(0.9700 1)" font-size="15.4" font-weight="bold" font-family="Liberation Sans">-9</text>
<path d="M177.45 903.7 V911" stroke="#000" stroke-width="2.7"/>
<text transform="translate(170.75 926.3) scale(0.9700 1)" font-size="15.4" font-weight="bold" font-family="Liberation Sans">-8</text>
<path d="M250.3 903.7 V911" stroke="#000" stroke-width="2.7"/>
<text transform="translate(243.71 926.3) scale(0.9700 1)" font-size="15.4" font-weight="bold" font-family="Liberation Sans">-7</text>
<path d="M323.15 903.7 V911" stroke="#000" stroke-width="2.7"/>
<text transform="translate(316.48 926.3) scale(0.9700 1)" font-size="15.4" font-weight="bold" font-family="Liberation Sans">-6</text>
<path d="M396 903.7 V911" stroke="#000" stroke-width="2.7"/>
<text transform="translate(389.28 926.3) scale(0.9700 1)" font-size="15.4" font-weight="bold" font-family="Liberation Sans">-5</text>
<path d="M468.85 903.7 V911" stroke="#000" stroke-width="2.7"/>
<text transform="translate(461.96 926.3) scale(0.9700 1)" font-size="15.4" font-weight="bold" font-family="Liberation Sans">-4</text>
<text transform="translate(208.94 948.8) scale(0.9895 1)" font-size="17.3" font-weight="bold" font-family="Liberation Sans">log [Glutamate],</text>
<text transform="translate(348.89 948.8) scale(1.0779 1)" font-size="17.3" font-weight="bold" font-family="Liberation Sans">M</text>
<path d="M175.99 863.56 L178.01 863.56 L180.02 863.55 L182.03 863.55 L184.05 863.54 L186.06 863.53 L188.07 863.52 L190.09 863.51 L192.1 863.49 L194.11 863.48 L196.13 863.46 L198.14 863.43 L200.15 863.4 L202.17 863.37 L204.18 863.32 L206.19 863.27 L208.21 863.21 L210.22 863.14 L212.23 863.06 L214.25 862.96 L216.26 862.84 L218.27 862.69 L220.29 862.52 L222.3 862.32 L224.31 862.08 L226.33 861.8 L228.34 861.46 L230.35 861.06 L232.37 860.58 L234.38 860.02 L236.39 859.35 L238.41 858.57 L240.42 857.64 L242.43 856.54 L244.45 855.26 L246.46 853.75 L248.47 851.99 L250.49 849.94 L252.5 847.56 L254.51 844.81 L256.53 841.65 L258.54 838.04 L260.55 833.95 L262.57 829.34 L264.58 824.2 L266.59 818.53 L268.61 812.33 L270.62 805.63 L272.63 798.5 L274.65 791 L276.66 783.22 L278.67 775.28 L280.69 767.29 L282.7 759.38 L284.71 751.66 L286.73 744.24 L288.74 737.2 L290.75 730.62 L292.76 724.54 L294.78 718.99 L296.79 713.98 L298.8 709.5 L300.82 705.53 L302.83 702.03 L304.84 698.97 L306.86 696.31 L308.87 694.01 L310.88 692.03 L312.9 690.33 L314.91 688.88 L316.92 687.64 L318.94 686.59 L320.95 685.7 L322.96 684.94 L324.98 684.3 L326.99 683.76 L329 683.3 L331.02 682.92 L333.03 682.59 L335.04 682.32 L337.06 682.09 L339.07 681.89 L341.08 681.73 L343.1 681.59 L345.11 681.48 L347.12 681.38 L349.14 681.3 L351.15 681.23 L353.16 681.18 L355.18 681.13 L357.19 681.09 L359.2 681.05 L361.22 681.02 L363.23 681 L365.24 680.98 L367.26 680.96 L369.27 680.95 L371.28 680.94 L373.3 680.93 L375.31 680.92 L377.32 680.91 L379.34 680.91 L381.35 680.9 L383.36 680.9 L385.38 680.89 L387.39 680.89 L389.4 680.89 L391.42 680.89 L393.43 680.88 L395.44 680.88 L397.46 680.88" fill="none" stroke="#000" stroke-width="3.3" stroke-linecap="butt" stroke-linejoin="round"/>
<path d="M175.99 863.58 L178.01 863.58 L180.02 863.58 L182.03 863.58 L184.05 863.58 L186.06 863.58 L188.07 863.58 L190.09 863.58 L192.1 863.58 L194.11 863.58 L196.13 863.58 L198.14 863.58 L200.15 863.57 L202.17 863.57 L204.18 863.57 L206.19 863.57 L208.21 863.56 L210.22 863.56 L212.23 863.55 L214.25 863.55 L216.26 863.54 L218.27 863.54 L220.29 863.53 L222.3 863.52 L224.31 863.51 L226.33 863.5 L228.34 863.48 L230.35 863.47 L232.37 863.45 L234.38 863.42 L236.39 863.4 L238.41 863.37 L240.42 863.33 L242.43 863.29 L244.45 863.25 L246.46 863.2 L248.47 863.13 L250.49 863.06 L252.5 862.98 L254.51 862.89 L256.53 862.78 L258.54 862.65 L260.55 862.5 L262.57 862.33 L264.58 862.14 L266.59 861.91 L268.61 861.65 L270.62 861.35 L272.63 861 L274.65 860.6 L276.66 860.14 L278.67 859.61 L280.69 859 L282.7 858.29 L284.71 857.49 L286.73 856.57 L288.74 855.52 L290.75 854.32 L292.76 852.95 L294.78 851.4 L296.79 849.63 L298.8 847.65 L300.82 845.41 L302.83 842.9 L304.84 840.1 L306.86 836.99 L308.87 833.55 L310.88 829.77 L312.9 825.66 L314.91 821.2 L316.92 816.41 L318.94 811.31 L320.95 805.92 L322.96 800.28 L324.98 794.44 L326.99 788.46 L329 782.39 L331.02 776.29 L333.03 770.24 L335.04 764.3 L337.06 758.51 L339.07 752.95 L341.08 747.64 L343.1 742.63 L345.11 737.94 L347.12 733.59 L349.14 729.57 L351.15 725.9 L353.16 722.57 L355.18 719.55 L357.19 716.84 L359.2 714.41 L361.22 712.25 L363.23 710.34 L365.24 708.64 L367.26 707.14 L369.27 705.83 L371.28 704.67 L373.3 703.66 L375.31 702.78 L377.32 702.01 L379.34 701.34 L381.35 700.75 L383.36 700.24 L385.38 699.8 L387.39 699.42 L389.4 699.08 L391.42 698.8 L393.43 698.54 L395.44 698.33 L397.46 698.14" fill="none" stroke="#000" stroke-width="3.3" stroke-linecap="butt" stroke-linejoin="round"/>
<path d="M250.3 847.85 V862.29 M246.1 847.85 H254.5 M246.1 862.29 H254.5" stroke="#000" stroke-width="1.6" fill="none"/>
<rect x="173.31" y="858.64" width="8.27" height="8.27" fill="#000"/>
<rect x="208.06" y="858.64" width="8.27" height="8.27" fill="#000"/>
<rect x="246.16" y="858.15" width="8.27" height="8.27" fill="#000"/>
<rect x="280.91" y="858.31" width="8.27" height="8.27" fill="#000"/>
<rect x="319.01" y="795.19" width="8.27" height="8.27" fill="#000"/>
<rect x="353.76" y="716.17" width="8.27" height="8.27" fill="#000"/>
<rect x="391.86" y="694.1" width="8.27" height="8.27" fill="#000"/>
<path d="M246.2 860.22 L254.39 860.22 L250.3 852.39Z" fill="#000"/>
<path d="M280.95 753.13 L289.14 753.13 L285.05 745.3Z" fill="#000"/>
<path d="M319.05 696.34 L327.25 696.34 L323.15 688.51Z" fill="#000"/>
<path d="M353.8 684.16 L361.99 684.16 L357.9 676.34Z" fill="#000"/>
<path d="M391.9 680.92 L400.1 680.92 L396 673.09Z" fill="#000"/>
<text transform="translate(115.27 691.2) scale(1.0147 1)" font-size="15.5" font-weight="bold" font-family="Liberation Sans">Glu + 10 µM</text>
<text transform="translate(211.79 691.2) scale(0.9530 1)" font-size="15.5" font-weight="bold" font-family="Liberation Sans">SAR218645,</text>
<text transform="translate(114.85 710.2) scale(1.0392 1)" font-size="15.5" font-weight="bold" font-family="Liberation Sans">EC</text>
<text transform="translate(137.87 714.2) scale(1.0721 1)" font-size="10.2" font-weight="bold" font-family="Liberation Sans">50</text>
<text transform="translate(154.39 710.2) scale(0.9815 1)" font-size="15.5" font-weight="bold" font-family="Liberation Sans">= 250 nM</text>
<text transform="translate(331 811.1) scale(0.9711 1)" font-size="15.5" font-weight="bold" font-family="Liberation Sans">Glutamate,</text>
<text transform="translate(330.55 831.1) scale(1.0392 1)" font-size="15.5" font-weight="bold" font-family="Liberation Sans">EC</text>
<text transform="translate(352.98 835.1) scale(1.0439 1)" font-size="10.2" font-weight="bold" font-family="Liberation Sans">50</text>
<text transform="translate(369.41 831.1) scale(0.9436 1)" font-size="15.5" font-weight="bold" font-family="Liberation Sans">= 1.26</text>
<text transform="translate(414.84 831.1) scale(1.0449 1)" font-size="16.28" font-weight="normal" font-family="Liberation Serif">μ</text>
<text transform="translate(423.92 831.1) scale(1.1663 1)" font-size="15.5" font-weight="bold" font-family="Liberation Sans">M</text>
</g>
</svg>
</body>
</html>
